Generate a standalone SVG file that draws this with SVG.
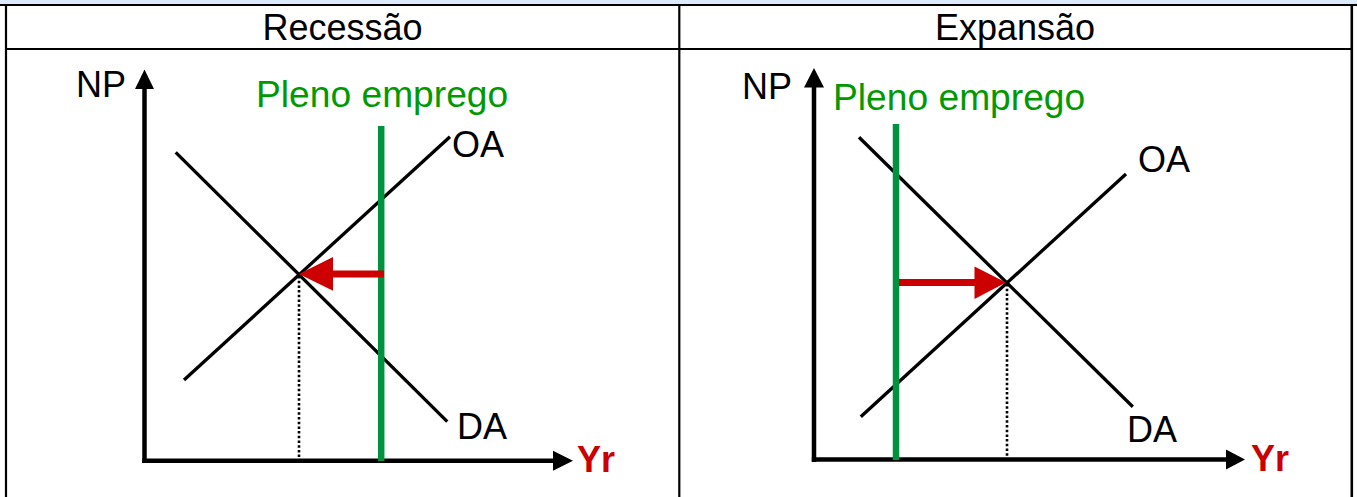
<svg xmlns="http://www.w3.org/2000/svg" width="1357" height="497" viewBox="0 0 1357 497">
<style>
.t{font-family:"Liberation Sans",Arial,sans-serif;font-size:36px;fill:#000}
.g{fill:#009a00;font-size:37.2px}
.y{font-weight:bold;fill:#cc0000}
.ax{stroke:#000;stroke-width:4.5;fill:none}
.cv{stroke:#000;stroke-width:3.3;fill:none}
.pe{stroke:#00923f;stroke-width:6.5;fill:none}
.dot{stroke:#000;stroke-width:2.6;stroke-dasharray:2.5 2.2;fill:none}
.ar{stroke:#cc0000;stroke-width:7;fill:none}
.grid{stroke:#000;fill:none}
</style>
<rect x="0" y="0" width="1357" height="497" fill="#fff"/>
<rect x="0" y="0" width="1357" height="5" fill="#dbeafc"/>
<g id="table" class="grid">
<line x1="0" y1="5" x2="1357" y2="5" stroke-width="2.2"/>
<line x1="6" y1="4" x2="6" y2="497" stroke-width="2.2"/>
<line x1="1351.8" y1="4" x2="1351.8" y2="497" stroke-width="2.6"/>
<line x1="679.3" y1="4" x2="679.3" y2="497" stroke-width="2.2"/>
<line x1="6" y1="49" x2="1352" y2="49" stroke-width="2.2"/>
</g>
<g id="header-left"><text class="t" x="342.5" y="40" text-anchor="middle">Recessão</text></g>
<g id="header-right"><text class="t" x="1015" y="40" text-anchor="middle">Expansão</text></g>
<g id="panel-recessao">
<g id="axes-left">
<line class="ax" x1="144.5" y1="463" x2="144.5" y2="86"/>
<polygon points="135,89 144.5,69.5 154,89" fill="#000"/>
<line class="ax" x1="142.3" y1="460.7" x2="556" y2="460.7"/>
<polygon points="553,450.7 573,460.7 553,470.7" fill="#000"/>
<text class="t" x="76" y="97">NP</text>
<text class="t y" x="577" y="472">Yr</text>
</g>
<g id="curves-left">
<line class="cv" x1="175.7" y1="152.3" x2="447.3" y2="421.7"/>
<line class="cv" x1="184" y1="380" x2="450" y2="136.7"/>
<text class="t" x="452" y="157">OA</text>
<text class="t" x="457" y="439">DA</text>
</g>
<g id="pleno-left">
<line class="pe" x1="381.2" y1="126" x2="381.2" y2="461"/>
<text class="t g" x="256" y="107">Pleno emprego</text>
</g>
<line class="dot" x1="299" y1="276" x2="299" y2="458"/>
<g id="arrow-left">
<line class="ar" x1="384" y1="274" x2="330" y2="274"/>
<polygon points="333,257 299,274 333,290.7" fill="#cc0000"/>
</g>
</g>
<g id="panel-expansao">
<g id="axes-right">
<line class="ax" x1="814" y1="462" x2="814" y2="85"/>
<polygon points="804,87.5 814,68 824,87.5" fill="#000"/>
<line class="ax" x1="811.8" y1="459.5" x2="1228" y2="459.5"/>
<polygon points="1226,449.5 1245,459.5 1226,469.5" fill="#000"/>
<text class="t" x="742" y="99">NP</text>
<text class="t y" x="1251" y="471">Yr</text>
</g>
<g id="curves-right">
<line class="cv" x1="859" y1="137.3" x2="1132.8" y2="406.7"/>
<line class="cv" x1="860.8" y1="416.7" x2="1126" y2="174"/>
<text class="t" x="1138" y="172">OA</text>
<text class="t" x="1127" y="442">DA</text>
</g>
<g id="pleno-right">
<line class="pe" x1="896" y1="124" x2="896" y2="460"/>
<text class="t g" x="833" y="110">Pleno emprego</text>
</g>
<line class="dot" x1="1007" y1="284" x2="1007" y2="457"/>
<g id="arrow-right">
<line class="ar" x1="899" y1="282.5" x2="978" y2="282.5"/>
<polygon points="974.5,266.5 1006,282.5 974.5,299" fill="#cc0000"/>
</g>
</g>
</svg>
